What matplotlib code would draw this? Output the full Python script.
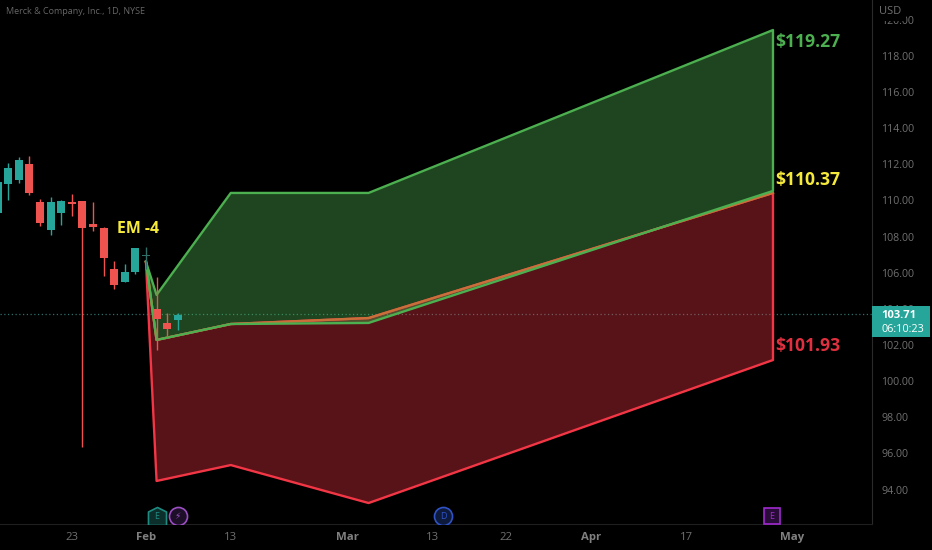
import matplotlib
matplotlib.use('Agg')
import matplotlib.pyplot as plt
from matplotlib.patches import Rectangle
from matplotlib.path import Path

# daily candles, index 0 = 1 Feb
days = [-14, -13, -12, -11, -10, -9, -8, -7, -6, -5, -4, -3, -2, -1, 0, 1, 2, 3]
opens = [109.28, 110.89, 111.14, 111.99, 109.89, 108.38, 109.32, 109.91, 109.96, 108.67, 108.49, 106.19, 105.50, 106.04, 106.90, 103.97, 103.22, 103.38]
highs = [111.03, 112.09, 112.42, 112.45, 110.08, 110.17, 110.00, 110.35, 109.98, 109.93, 108.50, 106.66, 106.48, 107.38, 107.40, 105.78, 103.75, 103.79]
lows = [108.80, 110.02, 110.98, 110.31, 108.58, 108.08, 108.64, 109.13, 96.36, 108.32, 105.83, 105.11, 105.48, 105.91, 106.20, 101.72, 102.50, 102.83]
closes = [111.03, 111.77, 112.23, 110.43, 108.75, 109.89, 109.95, 109.82, 108.47, 108.54, 106.83, 105.32, 106.04, 107.38, 106.94, 103.42, 102.87, 103.68]

# expected move bands
green_up_x = [0, 1, 8, 21, 59.15]
green_up_y = [106.6, 104.77, 110.41, 110.41, 119.42]
green_lo_x = [0, 1, 8, 21, 59.15]
green_lo_y = [106.6, 102.28, 103.16, 103.22, 110.52]
red_up_x = [0, 1, 8, 21, 59.15]
red_up_y = [106.6, 102.28, 103.16, 103.49, 110.41]
red_lo_x = [0, 1, 8, 21, 59.15]
red_lo_y = [106.6, 94.48, 95.36, 93.26, 101.17]

price_ticks = [120, 118, 116, 114, 112, 110, 108, 106, 104, 102, 100, 98, 96, 94]
date_ticks = [-7, 0, 8, 19, 27, 34, 42, 51, 61]
date_labels = ['23', 'Feb', '13', 'Mar', '13', '22', 'Apr', '17', 'May']
last_price = 103.71

TEAL = '#26a69a'
RED = '#ef5350'
GREEN_LINE = '#4caf50'
RED_LINE = '#f23645'
GREY = '#707070'

plt.rcParams['font.family'] = ['Open Sans', 'DejaVu Sans']

fig = plt.figure(figsize=(9.32, 5.5), dpi=100, facecolor='black')
ax = fig.add_axes([0, 26 / 550, 872 / 932, 524 / 550], facecolor='black')
ax.set_xlim(-13.77, 68.49)
ax.set_ylim(92.10, 121.08)

ax.axhline(last_price, color='#2f6f68', lw=0.9, ls=(0, (1, 2)), zorder=1)

# bands
ax.fill_between(red_up_x, red_up_y, red_lo_y, color='#f23645', alpha=0.36, lw=0, zorder=3)
ax.fill_between(green_up_x, green_up_y, green_lo_y, color='#4caf50', alpha=0.40, lw=0, zorder=3)
ax.plot(red_up_x + red_lo_x[::-1], red_up_y + red_lo_y[::-1], color=RED_LINE, lw=1.7, zorder=4)
ax.plot(red_up_x, red_up_y, color='#c8703a', lw=1.7, zorder=4)
ax.plot(green_up_x + green_lo_x[::-1], green_up_y + green_lo_y[::-1], color=GREEN_LINE, lw=1.7, zorder=5)

# candles
for d, o, h, l, c in zip(days, opens, highs, lows, closes):
    col = TEAL if c >= o else RED
    if d == 0:
        col = '#2f6f68'
    ax.vlines(d, l, h, color=col, lw=1, zorder=6)
    ax.add_patch(Rectangle((d - 0.38, min(o, c)), 0.76, max(abs(c - o), 0.05), color=col, lw=0, zorder=6))

ax.text(59.4, 118.77, '$119.27', color='#4caf50', fontsize=12.6, fontweight='bold', va='center', ha='left', zorder=7)
ax.text(59.4, 111.14, '$110.37', color='#f5ea3c', fontsize=12.6, fontweight='bold', va='center', ha='left', zorder=7)
ax.text(59.4, 101.96, '$101.93', color='#e0303f', fontsize=12.6, fontweight='bold', va='center', ha='left', zorder=7)
ax.text(-2.75, 108.42, 'EM -4', color='#f5ea3c', fontsize=11.4, fontweight='bold', va='center', ha='left', zorder=7)

# event markers along the bottom
house = Path([(-1, -1), (-1, 0.5), (0, 1), (1, 0.5), (1, -1), (-1, -1)])
ax.plot([1], [92.54], marker=house, ms=13, mfc='#0d2f2c', mec='#1f8a80', mew=1.2, ls='none', zorder=6)
ax.text(1, 92.52, 'E', color='#1f8a80', fontsize=6.5, ha='center', va='center', zorder=7)
ax.plot([3], [92.54], marker='o', ms=13, mfc='#1d0f28', mec='#9c4fc4', mew=1.2, ls='none', zorder=6)
ax.text(3, 92.52, '\u26a1', color='#9c4fc4', fontsize=6.5, ha='center', va='center', zorder=7)
ax.plot([28.05], [92.54], marker='o', ms=13, mfc='#0e1a3c', mec='#2f52c4', mew=1.2, ls='none', zorder=6)
ax.text(28.05, 92.52, 'D', color='#2f52c4', fontsize=6.5, ha='center', va='center', zorder=7)
ax.plot([59.05], [92.54], marker='s', ms=12, mfc='#2a0c38', mec='#a02bd0', mew=1.2, ls='none', zorder=6)
ax.text(59.05, 92.52, 'E', color='#a02bd0', fontsize=6.5, ha='center', va='center', zorder=7)

# axes
for s in ['top', 'left']:
    ax.spines[s].set_visible(False)
ax.spines['right'].set_color('#2a2a2a')
ax.spines['bottom'].set_color('#1f1f1f')
ax.yaxis.tick_right()
ax.set_yticks(price_ticks)
ax.set_yticklabels(['%.2f' % p for p in price_ticks])
ax.tick_params(axis='y', length=0, pad=6.5, labelsize=7.7, labelcolor=GREY)
ax.set_xticks(date_ticks)
ax.set_xticklabels(date_labels)
ax.tick_params(axis='x', length=0, pad=6, labelsize=8.2, labelcolor=GREY)
for lab in ax.get_xticklabels():
    if lab.get_text() in ('Feb', 'Mar', 'Apr', 'May'):
        lab.set_color('#808080')
        lab.set_fontweight('bold')

fig.text(6 / 932, 1 - 12 / 550, 'Merck & Company, Inc., 1D, NYSE', color='#666666', fontsize=6.5, va='center', ha='left')
fig.text(879 / 932, 1 - 11 / 550, 'USD', color=GREY, fontsize=8, va='center', ha='left',
         bbox=dict(facecolor='black', edgecolor='none', pad=3.5), zorder=10)

# last price tag
fig.patches.append(Rectangle((872 / 932, 1 - 337 / 550), 58 / 932, 31 / 550, transform=fig.transFigure,
                             facecolor='#26a69a', edgecolor='none', zorder=10))
fig.text(881 / 932, 1 - 315 / 550, '103.71', color='white', fontsize=8, fontweight='bold', va='center', ha='left', zorder=11)
fig.text(881 / 932, 1 - 329 / 550, '06:10:23', color='white', fontsize=7.8, va='center', ha='left', zorder=11)

fig.savefig('out.png', dpi=100, facecolor='black')
plt.close(fig)
